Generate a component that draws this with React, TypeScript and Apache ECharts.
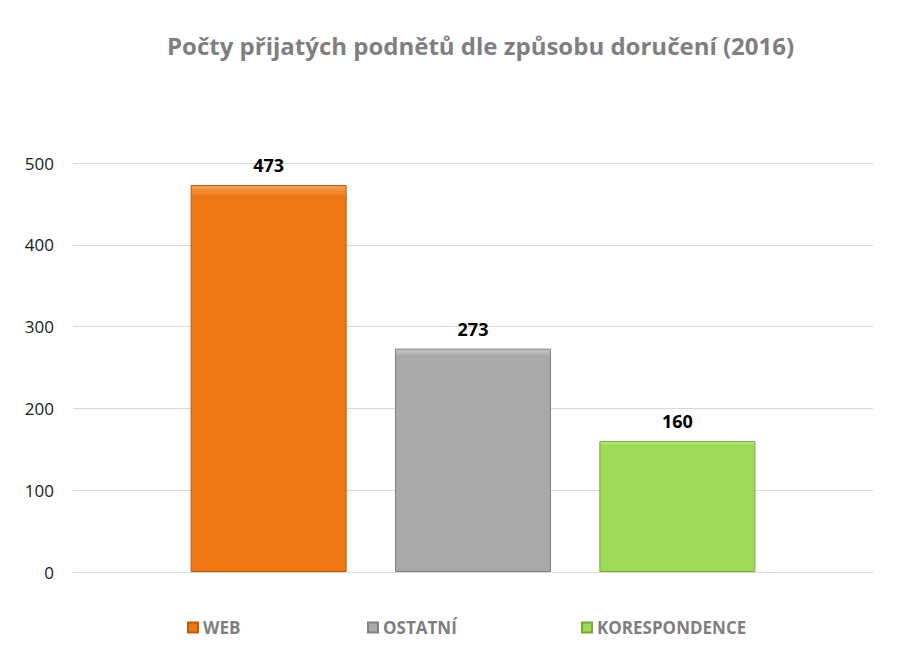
import React, { useEffect, useRef } from "react";
import * as echarts from "echarts";

const seriesNames = ["WEB", "OSTATNÍ", "KORESPONDENCE"];
const values = [473, 273, 160];
const colors = ["#F07611", "#A9A9A9", "#9DDA56"];
const borderColors = ["#B85A0C", "#808080", "#76A83E"];
const lightColors = ["#F7A35C", "#C9C9C9", "#BDEB8A"];
const legendLeft = [182, 362, 576];

export default function App() {
  const ref = useRef<HTMLDivElement>(null);
  useEffect(() => {
    const chart = echarts.init(ref.current!, null, { renderer: "svg" });
    chart.setOption({
      animation: false,
      backgroundColor: "#FFFFFF",
      title: {
        text: "Počty přijatých podnětů dle způsobu doručení (2016)",
        left: 162,
        top: 28,
        textStyle: { fontFamily: "Open Sans", fontSize: 24, fontWeight: "bold", color: "#7F7F7F" },
      },
      legend: seriesNames.map((n, i) => ({
        data: [n],
        left: legendLeft[i],
        top: 614,
        itemWidth: 10,
        itemHeight: 10,
        itemGap: 0,
        icon: "rect",
        textStyle: { fontFamily: "Open Sans", fontSize: 17, fontWeight: "bold", color: "#7F7F7F" },
      })),
      grid: { left: 73, right: 28, top: 163, bottom: 86 },
      xAxis: {
        type: "category",
        data: [""],
        axisLine: { show: true, lineStyle: { color: "#D9D9D9" } },
        axisTick: { show: false },
        axisLabel: { show: false },
      },
      yAxis: {
        type: "value",
        min: 0,
        max: 500,
        interval: 100,
        axisLine: { show: false },
        axisTick: { show: false },
        splitLine: { lineStyle: { color: "#D9D9D9", width: 1 } },
        axisLabel: { fontFamily: "Open Sans", fontSize: 17, color: "#1A1A1A", margin: 19 },
      },
      series: seriesNames.map((n, i) => ({
        name: n,
        type: "bar",
        data: [values[i]],
        barWidth: 156,
        barGap: "31%",
        itemStyle: {
          color: new echarts.graphic.LinearGradient(0, 0, 0, 1, [
            { offset: 0, color: lightColors[i] },
            { offset: 0.03, color: colors[i] },
            { offset: 1, color: colors[i] },
          ]),
          borderColor: borderColors[i],
          borderWidth: 1,
        },
        label: {
          show: true,
          position: "top",
          distance: 11,
          fontFamily: "Open Sans",
          fontSize: 18,
          fontWeight: "bold",
          color: "#000000",
        },
      })),
    });
    return () => chart.dispose();
  }, []);
  return <div ref={ref} style={{ position: "fixed", left: 0, top: 0, width: 901, height: 658 }} />;
}
